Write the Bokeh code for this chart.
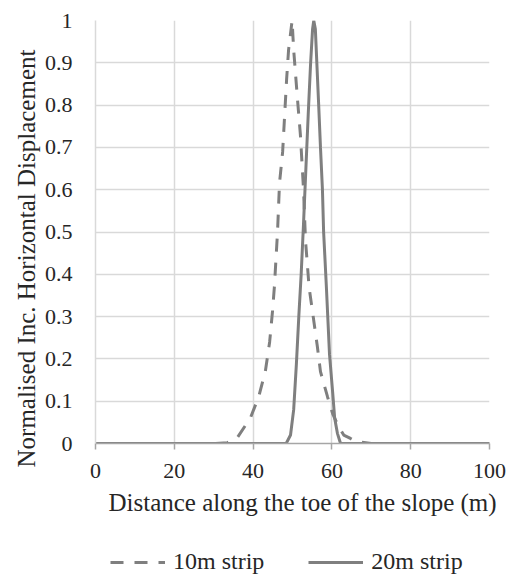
from bokeh.plotting import figure
from bokeh.models import Legend, LegendItem, FixedTicker, NumeralTickFormatter, Range1d, Title
from bokeh.layouts import column
from bokeh.embed import file_html
from bokeh.resources import INLINE

# ---- data ----
x_10m = [0, 10, 20, 30, 33.5, 36, 39.3, 41.4, 43.1, 44.2, 44.9, 45.4, 46.2, 46.7, 47.5,
         48.5, 49.0, 49.9, 50.3, 51.3, 52.0, 52.8, 53.3, 53.8, 54.2, 55.1, 56.3, 57.1,
         58.9, 60.2, 61.7, 63.0, 64.7, 66.0, 70, 80, 90, 100]
y_10m = [0, 0, 0, 0, 0.002, 0.014, 0.06, 0.11, 0.17, 0.24, 0.31, 0.37, 0.50, 0.615, 0.69,
         0.86, 0.93, 1.0, 0.93, 0.81, 0.73, 0.60, 0.48, 0.42, 0.37, 0.31, 0.23, 0.17,
         0.11, 0.07, 0.04, 0.02, 0.012, 0.005, 0, 0, 0, 0]

x_20m = [0, 10, 20, 30, 40, 48.4, 49.5, 50.3, 51.0, 51.6, 52.2, 52.8, 53.4, 54.0, 54.6, 55.1,
         55.4, 55.8, 56.6, 57.1, 57.6, 57.9, 58.6, 59.4, 60.2, 60.7, 61.4, 62.2, 70, 80, 90, 100]
y_20m = [0, 0, 0, 0, 0, 0, 0.02, 0.08, 0.19, 0.30, 0.40, 0.52, 0.65, 0.78, 0.90, 0.98,
         1.0, 0.98, 0.81, 0.70, 0.60, 0.50, 0.37, 0.21, 0.12, 0.06, 0.024, 0, 0, 0, 0, 0]

x_ticks = [0, 20, 40, 60, 80, 100]
y_ticks = [0, 0.1, 0.2, 0.3, 0.4, 0.5, 0.6, 0.7, 0.8, 0.9, 1.0]
series_names = ["10m strip", "20m strip"]
x_title = "Distance along the toe of the slope (m)"
y_title = "Normalised Inc. Horizontal Displacement"

FONT = "Liberation Serif"
LINE = "#7f7f7f"
GRID = "#d9d9d9"
TXT = "#262626"
DASH = "13 11"

p = figure(width=518, height=537, output_backend="svg", toolbar_location=None,
           x_range=Range1d(0, 100), y_range=Range1d(0, 1), title=None,
           min_border_left=95, min_border_right=29, min_border_top=20, min_border_bottom=94)
p.outline_line_color = None
p.background_fill_color = "white"
p.border_fill_color = "white"

# grids
p.xgrid.ticker = FixedTicker(ticks=x_ticks)
p.ygrid.ticker = FixedTicker(ticks=y_ticks)
p.grid.grid_line_color = GRID
p.grid.grid_line_width = 1.5

# axes
p.xaxis.ticker = FixedTicker(ticks=x_ticks)
p.yaxis.ticker = FixedTicker(ticks=y_ticks)
p.yaxis.formatter = NumeralTickFormatter(format="0.[0]")
p.xaxis.formatter = NumeralTickFormatter(format="0")
for ax in (p.xaxis, p.yaxis):
    ax.major_label_text_font = FONT
    ax.major_label_text_font_size = "22px"
    ax.major_label_text_color = TXT
    ax.minor_tick_line_color = None

p.xaxis.axis_line_color = "#a6a6a6"
p.xaxis.axis_line_width = 1.5
p.xaxis.major_tick_line_color = "#a6a6a6"
p.xaxis.major_tick_line_width = 1.5
p.xaxis.major_tick_out = 6
p.xaxis.major_tick_in = 0
p.xaxis.major_label_standoff = 14

p.yaxis.axis_line_color = GRID
p.yaxis.axis_line_width = 1.5
p.yaxis.major_tick_line_color = GRID
p.yaxis.major_tick_out = 0
p.yaxis.major_tick_in = 0
p.yaxis.major_label_standoff = 23

r1 = p.line(x_10m, y_10m, line_color=LINE, line_width=3, line_dash=DASH)
r2 = p.line(x_20m, y_20m, line_color=LINE, line_width=3)

# axis titles
yt = Title(text=y_title, align="left", offset=-24, text_font=FONT, text_font_size="25px",
           text_font_style="normal", text_color=TXT, standoff=4)
p.add_layout(yt, "left")
xt = Title(text=x_title, align="left", offset=13, text_font=FONT, text_font_size="25px",
           text_font_style="normal", text_color=TXT, standoff=13)
p.add_layout(xt, "below")

# ---- legend strip (separate small figure below the chart) ----
q = figure(width=518, height=40, output_backend="svg", toolbar_location=None,
           x_range=Range1d(0, 100), y_range=Range1d(10, 11), title=None,
           min_border_left=0, min_border_right=0, min_border_top=0, min_border_bottom=0)
q.axis.visible = False
q.grid.visible = False
q.outline_line_color = None
q.border_fill_color = "white"
l1 = q.line(x_10m, y_10m, line_color=LINE, line_width=3, line_dash=DASH)
l2 = q.line(x_20m, y_20m, line_color=LINE, line_width=3)

legend = Legend(items=[LegendItem(label=series_names[0], renderers=[l1]),
                       LegendItem(label=series_names[1], renderers=[l2])],
                orientation="horizontal", location=(15, 2))
legend.label_text_font = FONT
legend.label_text_font_size = "24px"
legend.label_text_color = TXT
legend.glyph_width = 55
legend.glyph_height = 24
legend.spacing = 44
legend.padding = 0
legend.margin = 0
legend.label_standoff = 8
legend.border_line_color = None
legend.background_fill_alpha = 0
q.add_layout(legend, "center")

open("out.html", "w").write(file_html(column(p, q, spacing=0), INLINE))
